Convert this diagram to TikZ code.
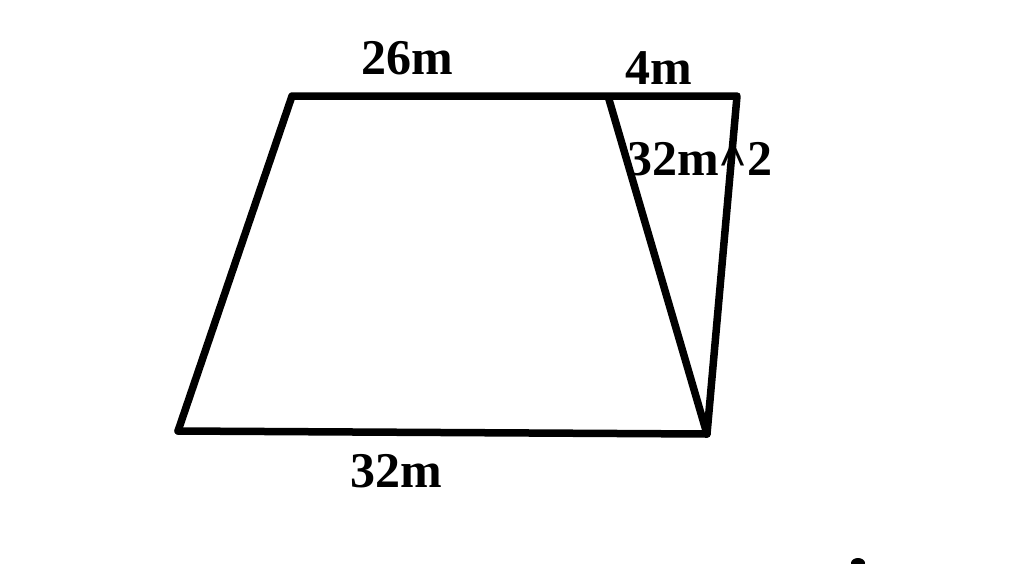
\documentclass[tikz,border=0pt]{standalone}
\usepackage{fontspec}
\setmainfont{Liberation Serif}
\begin{document}
\begin{tikzpicture}[x=1pt,y=-1pt,
  edge/.style={line width=7.5pt,line cap=round,line join=round},
  lbl/.style={font=\fontsize{50}{50}\selectfont\bfseries,inner sep=0pt}]
\useasboundingbox[fill=white] (0,0) rectangle (1024,563);
% labels (drawn first; lines overlap them)
\node[lbl] (top) at (407,58) {26m};
\node[lbl] (ext) at (659,68) {4m};
\node[lbl,anchor=west] (area) at (627,159) {32m\textasciicircum 2};
\node[lbl] (bot) at (396,471) {32m};
% corners
\coordinate (A) at (292,96);
\coordinate (B) at (608,96);
\coordinate (C) at (737,96);
\coordinate (D) at (707,434);
\coordinate (E) at (178,431);
\draw[edge] (E) -- (A) -- (B) -- (C) -- (D) -- (B);
\draw[edge] (E) -- (D);
% stray mark
\fill (858,563) ellipse (7 and 5);
\end{tikzpicture}
\end{document}
